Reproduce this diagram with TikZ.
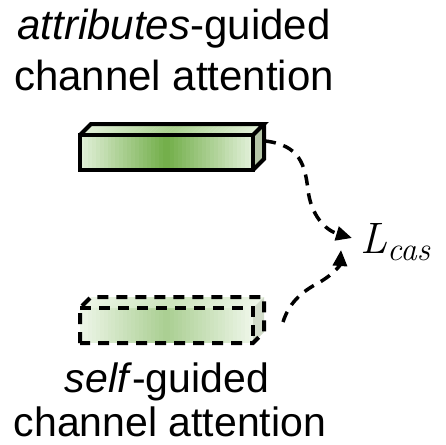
\documentclass[tikz,border=0pt]{standalone}
\usepackage{fontspec}
\setmainfont{Liberation Sans}
\newfontfamily\lcasfont{Latin Modern Roman}
\usetikzlibrary{arrows.meta}
\definecolor{gLight}{HTML}{E2F0D9}
\definecolor{gDark}{HTML}{70AD47}
\definecolor{gMid}{HTML}{A9D18E}
\definecolor{gSide}{HTML}{B4C5A6}
\begin{document}
\begin{tikzpicture}[x=1pt,y=1pt,
  lbl/.style={inner sep=0pt, anchor=base, font=\fontsize{42}{50}\selectfont},
  lblb/.style={inner sep=0pt, anchor=base, font=\fontsize{41}{48}\selectfont},
  boxedge/.style={line width=4pt, line join=miter},
  dedge/.style={line width=4pt, dash pattern=on 11pt off 8pt},
  conn/.style={line width=3.5pt, dash pattern=on 11pt off 8pt, -{Triangle[length=16pt,width=14pt]}}
]
\fill[white] (0,0) rectangle (446,-444);
\useasboundingbox (0,0) rectangle (446,-444);

% texts
\node[lbl] (t1) at (174,-39.5) {\textit{attributes}-guided};
\node[lbl] (t2) at (174,-90.5) {channel attention};
\node[lblb] (b1) at (167,-392) {\textit{self}-guided};
\node[lblb] (b2) at (170,-436) {channel attention};
\node[anchor=base west, inner sep=0pt, font=\lcasfont\itshape\fontsize{44}{50}\selectfont] (L) at (360,-253) {L\raisebox{-7pt}{\fontsize{33}{33}\selectfont cas}};

% gradient fills (strips)
\foreach \i in {0,...,43} {
  \pgfmathtruncatemacro\p{100*(1-abs(2*(\i+0.5)/44-1))}
  \pgfmathsetmacro\xa{80+\i*173/44}
  \pgfmathsetmacro\xb{80+(\i+1)*173/44+0.4}
  % top box
  \fill[gDark!\p!gLight] (\xa,-135) rectangle (\xb,-170);
  \fill[gMid!\p!gLight] (\xa,-135) -- (\xa+11,-124) -- (\xb+11,-124) -- (\xb,-135) -- cycle;
  % bottom box (faded)
  \fill[gDark!\p!gLight!60!white] (\xa,-308) rectangle (\xb,-343);
  \fill[gMid!\p!gLight!60!white] (\xa,-308) -- (\xa+11,-297) -- (\xb+11,-297) -- (\xb,-308) -- cycle;
}

% top box (solid)
\fill[gSide] (253,-135) -- (264,-124) -- (264,-159) -- (253,-170) -- cycle;
\draw[boxedge] (80,-135) rectangle (253,-170);
\draw[boxedge] (80,-135) -- (91,-124) -- (264,-124) -- (253,-135);
\draw[boxedge] (264,-124) -- (264,-159) -- (253,-170);

% bottom box (dashed, faded)
\fill[gSide!60!white] (253,-308) -- (264,-297) -- (264,-332) -- (253,-343) -- cycle;
\draw[dedge] (80,-343) -- (80,-308) -- (91,-297) -- (264,-297) -- (264,-332) -- (253,-343) -- cycle;
\draw[dedge] (80,-308) -- (253,-308) -- (253,-343);

% connectors
\coordinate (aOut) at (265,-141);
\coordinate (aIn) at (352,-238);
\coordinate (bOut) at (283,-322);
\coordinate (bIn) at (341,-250);
\draw[conn] (aOut) .. controls (300,-145) and (305,-165) .. (308,-190) .. controls (311,-215) and (325,-230) .. (aIn);
\draw[conn] (bOut) .. controls (290,-300) and (305,-290) .. (320,-282) .. controls (335,-273) and (340,-265) .. (bIn);
\end{tikzpicture}
\end{document}
